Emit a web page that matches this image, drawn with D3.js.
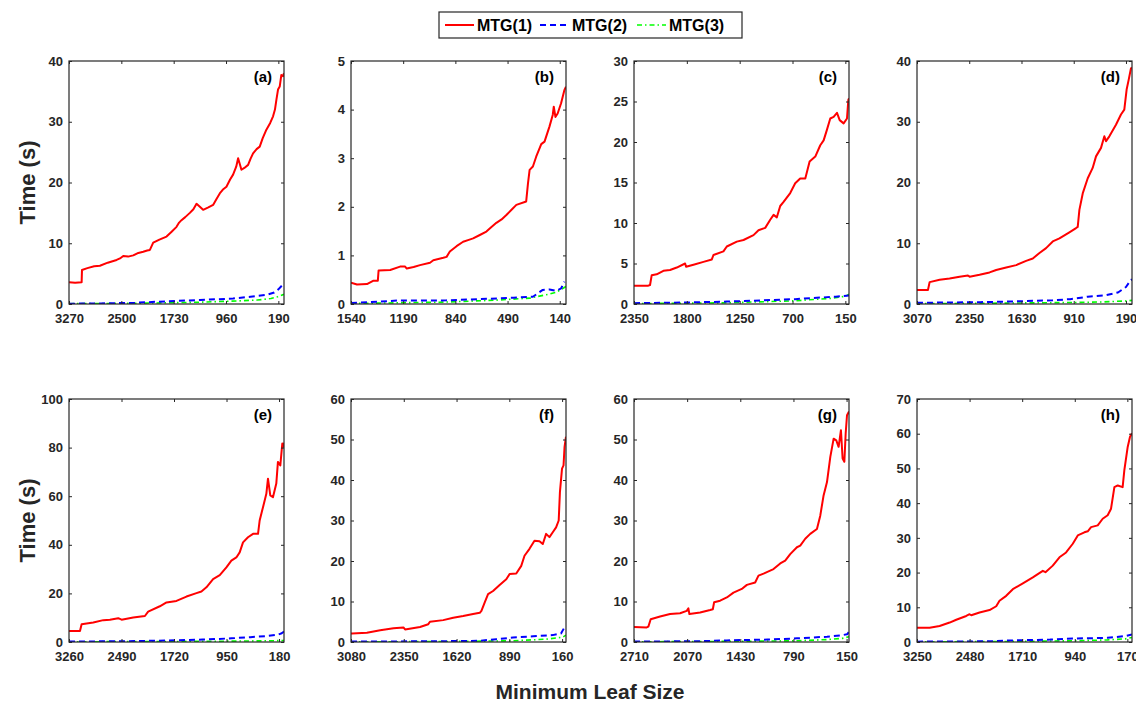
<!DOCTYPE html>
<html>
<head>
<meta charset="utf-8">
<script src="https://cdn.jsdelivr.net/npm/d3@7"></script>
<style>
  body { margin: 0; background: #fff; }
  svg { display: block; font-family: "Liberation Sans", Arial, sans-serif; }
  .axis text { font-size: 13px; font-weight: bold; fill: #262626; }
  .axis path { display: none; }
  .axis line { stroke: #262626; }
</style>
</head>
<body>
<svg id="chart" width="1136" height="704"></svg>
<script>
// panel labels, x tick values, right-hand end of each (reversed) x axis, y maximum + step
var panelLabels = ['(a)', '(b)', '(c)', '(d)', '(e)', '(f)', '(g)', '(h)'];
var xTickSets = [
  [3270, 2500, 1730, 960, 190],
  [1540, 1190, 840, 490, 140],
  [2350, 1800, 1250, 700, 150],
  [3070, 2350, 1630, 910, 190],
  [3260, 2490, 1720, 950, 180],
  [3080, 2350, 1620, 890, 160],
  [2710, 2070, 1430, 790, 150],
  [3250, 2480, 1710, 940, 170]
];
var xEnds = [107, 98, 112, 107, 107, 106, 121, 102];
var yMaxes = [40, 5, 30, 40, 100, 60, 60, 70];
var ySteps = [10, 1, 5, 10, 20, 10, 10, 10];

var seriesNames = ['MTG(1)', 'MTG(2)', 'MTG(3)'];

// [minimum leaf size, time (s)]
var red_a = [[3270,3.6],[3180,3.5],[3084,3.6],[3079,5.6],[3000,5.9],[2900,6.2],[2815,6.3],[2700,6.8],[2570,7.25],[2520,7.5],[2472,7.9],[2400,7.8],[2325,8.0],[2250,8.4],[2178,8.6],[2120,8.8],[2080,8.9],[2031,10.1],[1940,10.6],[1835,11.1],[1760,11.9],[1688,12.7],[1650,13.4],[1615,13.8],[1560,14.3],[1492,15.0],[1440,15.6],[1394,16.5],[1345,16.0],[1297,15.5],[1220,15.9],[1150,16.3],[1100,17.3],[1052,18.2],[1000,18.9],[954,19.3],[900,20.5],[856,21.3],[810,22.6],[782,24.0],[733,22.1],[690,22.4],[635,22.9],[600,23.9],[562,24.8],[510,25.5],[464,25.9],[420,27.3],[366,28.7],[310,29.8],[268,30.9],[240,32.0],[219,33.6],[195,35.3],[170,35.8],[146,37.7],[121,37.5],[107,38.0]];
var blue_a = [[3270,0.05],[2800,0.1],[2300,0.2],[1835,0.44],[1345,0.66],[856,0.9],[600,1.2],[366,1.5],[250,1.9],[190,2.4],[140,3.0],[107,3.4]];
var green_a = [[3270,0.05],[2500,0.1],[1800,0.2],[1345,0.3],[800,0.5],[500,0.65],[300,0.9],[200,1.2],[107,1.6]];

var red_b = [[1540,0.44],[1500,0.40],[1433,0.41],[1389,0.48],[1360,0.48],[1355,0.69],[1277,0.70],[1211,0.77],[1177,0.77],[1166,0.73],[1120,0.76],[1077,0.80],[1010,0.85],[988,0.90],[921,0.95],[899,0.97],[877,1.08],[832,1.19],[788,1.28],[750,1.32],[721,1.35],[676,1.42],[632,1.49],[600,1.58],[565,1.67],[530,1.74],[498,1.83],[460,1.95],[431,2.04],[365,2.11],[353,2.48],[342,2.76],[320,2.83],[298,3.03],[264,3.29],[242,3.34],[209,3.65],[187,3.89],[180,4.06],[169,3.85],[154,3.92],[131,4.13],[109,4.4],[98,4.47]];
var blue_b = [[1540,0.02],[1230,0.07],[900,0.075],[676,0.1],[450,0.13],[320,0.15],[254,0.29],[209,0.3],[165,0.27],[131,0.32],[109,0.46]];
var green_b = [[1540,0.01],[900,0.04],[565,0.08],[342,0.12],[231,0.19],[165,0.24],[98,0.36]];

var red_c = [[2350,2.26],[2201,2.26],[2183,2.35],[2166,3.54],[2114,3.66],[2044,4.1],[1975,4.2],[1905,4.5],[1818,5.0],[1808,4.6],[1731,4.85],[1627,5.2],[1540,5.5],[1523,6.05],[1419,6.5],[1384,7.1],[1280,7.7],[1210,7.9],[1106,8.5],[1054,9.1],[984,9.4],[932,10.4],[897,11.0],[863,10.7],[828,12.1],[793,12.6],[724,13.7],[672,14.9],[620,15.5],[567,15.5],[522,17.6],[463,18.2],[411,19.6],[376,20.2],[342,21.5],[307,22.9],[272,23.1],[237,23.6],[209,22.7],[168,22.3],[133,22.9],[119,25.2],[112,25.4]];
var blue_c = [[2350,0.1],[1731,0.2],[1384,0.3],[1000,0.45],[672,0.6],[400,0.8],[250,0.9],[112,1.05]];
var green_c = [[2350,0.05],[1384,0.15],[672,0.4],[300,0.7],[150,0.95],[112,1.2]];

var red_d = [[3070,2.3],[2919,2.3],[2896,3.6],[2758,4.0],[2621,4.2],[2483,4.5],[2368,4.7],[2345,4.5],[2208,4.8],[2070,5.2],[1979,5.6],[1841,6.0],[1703,6.4],[1566,7.1],[1474,7.5],[1382,8.4],[1291,9.2],[1199,10.3],[1107,10.8],[970,11.8],[878,12.5],[855,12.7],[832,15.5],[786,18.2],[717,20.7],[649,22.4],[603,24.3],[534,25.7],[488,27.6],[465,26.8],[419,27.6],[328,29.5],[259,31.2],[213,32.0],[181,35.3],[153,36.9],[121,38.8],[107,38.9]];
var blue_d = [[3070,0.2],[2200,0.3],[1841,0.4],[1200,0.6],[960,0.8],[717,1.2],[488,1.4],[300,1.9],[190,2.8],[121,4.0],[107,4.0]];
var green_d = [[3070,0.05],[1841,0.15],[900,0.25],[488,0.35],[200,0.5],[107,0.6]];

var red_e = [[3260,4.5],[3099,4.5],[3075,7.3],[2904,8.0],[2757,9.0],[2660,9.2],[2538,9.8],[2489,9.2],[2318,10.1],[2147,10.7],[2099,12.5],[1928,14.7],[1830,16.3],[1684,16.9],[1537,18.7],[1391,20.1],[1318,20.8],[1245,22.5],[1147,25.9],[1049,27.5],[952,30.7],[879,33.5],[806,34.8],[757,36.9],[708,41.0],[635,43.1],[561,44.5],[488,44.5],[464,50.0],[415,55.5],[366,61.0],[342,67.2],[308,60.3],[269,59.6],[220,65.2],[196,74.1],[161,72.7],[132,81.7],[117,80.3],[107,82]];
var blue_e = [[3260,0.2],[2500,0.3],[1830,0.6],[1300,1.0],[879,1.5],[600,2.0],[366,2.4],[200,3.0],[140,3.6],[107,4.3]];
var green_e = [[3260,0.1],[1830,0.2],[879,0.35],[366,0.5],[107,0.6]];

var red_f = [[3080,2.1],[3066,2.1],[2860,2.3],[2676,2.9],[2492,3.4],[2355,3.6],[2332,3.1],[2125,3.7],[2011,4.4],[1988,5.0],[1804,5.4],[1666,6.0],[1529,6.4],[1391,6.9],[1299,7.2],[1276,7.7],[1230,9.8],[1184,11.8],[1115,12.6],[1024,14.1],[932,15.5],[886,16.8],[794,16.9],[725,18.8],[680,21.3],[611,23.0],[542,25.0],[473,24.9],[427,24.2],[381,26.7],[335,25.9],[289,27.1],[243,28.3],[207,30.0],[190,37.0],[161,42.8],[140,43.6],[126,48.2],[106,50.7]];
var blue_f = [[3080,0.1],[1800,0.2],[1300,0.3],[1070,0.7],[840,1.1],[560,1.4],[290,1.7],[175,2.1],[115,4.0],[106,4.0]];
var green_f = [[3080,0.05],[1800,0.1],[840,0.3],[381,0.7],[150,1.2],[106,1.7]];

var red_g = [[2710,3.7],[2557,3.6],[2537,3.8],[2509,5.6],[2396,6.3],[2276,6.9],[2155,7.1],[2075,7.7],[2055,8.3],[2043,6.9],[1914,7.3],[1793,7.9],[1761,8.1],[1745,9.8],[1673,10.2],[1592,11.0],[1512,12.2],[1412,13.1],[1351,14.1],[1251,14.7],[1211,16.4],[1150,16.9],[1030,18.0],[949,19.4],[889,20.1],[829,21.7],[748,23.4],[708,23.8],[648,25.5],[588,26.7],[507,27.9],[467,31.2],[427,36.2],[386,39.5],[346,45.7],[306,50.2],[274,49.8],[246,48.2],[218,52.3],[198,45.3],[177,44.5],[161,51.5],[145,56.0],[121,56.9]];
var blue_g = [[2710,0.1],[1900,0.2],[1592,0.4],[1100,0.6],[748,0.9],[386,1.3],[200,1.7],[145,1.9],[121,2.5]];
var green_g = [[2710,0.05],[1592,0.15],[748,0.3],[386,0.6],[200,0.9],[121,1.3]];

var red_h = [[3250,4.1],[3065,4.1],[2919,4.6],[2772,5.6],[2675,6.4],[2529,7.5],[2480,8.0],[2456,7.7],[2334,8.5],[2188,9.2],[2090,10.3],[2042,11.9],[1944,13.3],[1847,15.2],[1700,16.9],[1554,18.6],[1408,20.5],[1369,20.1],[1262,22.0],[1164,24.4],[1067,25.8],[969,28.3],[896,30.7],[799,31.6],[750,31.9],[701,33.1],[604,33.6],[531,35.5],[458,36.5],[409,38.4],[360,44.6],[311,45.1],[239,44.6],[214,49.5],[165,56.2],[131,59.1],[102,60.1]];
var blue_h = [[3250,0.1],[2200,0.2],[1944,0.4],[1300,0.7],[969,1.0],[458,1.2],[200,1.7],[102,2.2]];
var green_h = [[3250,0.05],[1944,0.15],[969,0.35],[458,0.6],[200,0.9],[102,1.3]];

var redSets = [red_a, red_b, red_c, red_d, red_e, red_f, red_g, red_h];
var blueSets = [blue_a, blue_b, blue_c, blue_d, blue_e, blue_f, blue_g, blue_h];
var greenSets = [green_a, green_b, green_c, green_d, green_e, green_f, green_g, green_h];

// line styles for MTG(1..3)
var styles = [
  {color: '#ff0000', width: 2, dash: null},
  {color: '#0000ff', width: 2, dash: '6,4'},
  {color: '#00ff00', width: 1.6, dash: '5,3,1.5,3'}
];

var panelLefts = [69, 351, 634, 917];
var rowTops = [61, 399];
var pw = 215, ph = 243;

var svg = d3.select('#chart');

panelLabels.forEach(function(label, i) {
  var col = i % 4, row = Math.floor(i / 4);
  var g = svg.append('g')
      .attr('transform', 'translate(' + panelLefts[col] + ',' + rowTops[row] + ')');

  var ticks = xTickSets[i];
  var x = d3.scaleLinear().domain([ticks[0], xEnds[i]]).range([0, pw]);
  var y = d3.scaleLinear().domain([0, yMaxes[i]]).range([ph, 0]);
  var yTicks = d3.range(0, yMaxes[i] + ySteps[i] / 2, ySteps[i]);

  g.append('clipPath').attr('id', 'clip' + i)
    .append('rect').attr('width', pw).attr('height', ph);

  var line = d3.line()
      .x(function(d) { return x(d[0]); })
      .y(function(d) { return y(d[1]); });

  // draw green first so red sits on top
  var sets = [greenSets[i], blueSets[i], redSets[i]];
  var order = [2, 1, 0];
  sets.forEach(function(s, k) {
    var st = styles[order[k]];
    g.append('path')
      .datum(s)
      .attr('clip-path', 'url(#clip' + i + ')')
      .attr('fill', 'none')
      .attr('stroke', st.color)
      .attr('stroke-width', st.width)
      .attr('stroke-dasharray', st.dash)
      .attr('stroke-linejoin', 'round')
      .attr('d', line);
  });

  // axes, ticks pointing inwards on all four sides
  g.append('g').attr('class', 'axis')
    .attr('transform', 'translate(0,' + ph + ')')
    .call(d3.axisBottom(x).tickValues(ticks).tickSizeInner(-3).tickSizeOuter(0).tickPadding(10).tickFormat(d3.format('d')));
  g.append('g').attr('class', 'axis')
    .call(d3.axisTop(x).tickValues(ticks).tickSizeInner(-3).tickSizeOuter(0).tickFormat(''));
  g.append('g').attr('class', 'axis')
    .call(d3.axisLeft(y).tickValues(yTicks).tickSizeInner(-3).tickSizeOuter(0).tickPadding(6).tickFormat(d3.format('d')));
  g.append('g').attr('class', 'axis')
    .attr('transform', 'translate(' + pw + ',0)')
    .call(d3.axisRight(y).tickValues(yTicks).tickSizeInner(-3).tickSizeOuter(0).tickFormat(''));

  g.append('rect')
    .attr('width', pw).attr('height', ph)
    .attr('fill', 'none')
    .attr('stroke', '#262626')
    .attr('stroke-width', 1.2);

  g.append('text')
    .attr('x', pw - 12).attr('y', 21)
    .attr('text-anchor', 'end')
    .style('font-size', '15px').style('font-weight', 'bold').style('fill', '#000')
    .text(label);
});

// y labels
rowTops.forEach(function(t) {
  svg.append('text')
    .attr('transform', 'translate(35,' + (t + ph / 2) + ') rotate(-90)')
    .attr('text-anchor', 'middle')
    .style('font-size', '22px').style('font-weight', 'bold').style('fill', '#262626')
    .text('Time (s)');
});

svg.append('text')
  .attr('x', 590).attr('y', 699)
  .attr('text-anchor', 'middle')
  .style('font-size', '21px').style('font-weight', 'bold').style('fill', '#262626')
  .text('Minimum Leaf Size');

// legend
var legend = svg.append('g').attr('transform', 'translate(439,12)');
legend.append('rect')
  .attr('width', 303).attr('height', 26)
  .attr('fill', '#fff').attr('stroke', '#262626').attr('stroke-width', 1.2);

var legendX = [6, 101, 198];
seriesNames.forEach(function(name, k) {
  var st = styles[k];
  legend.append('line')
    .attr('x1', legendX[k]).attr('x2', legendX[k] + 29)
    .attr('y1', 13).attr('y2', 13)
    .attr('stroke', st.color)
    .attr('stroke-width', st.width)
    .attr('stroke-dasharray', st.dash);
  legend.append('text')
    .attr('x', legendX[k] + 32).attr('y', 19)
    .style('font-size', '16px').style('font-weight', 'bold').style('fill', '#000')
    .text(name);
});
</script>
</body>
</html>
